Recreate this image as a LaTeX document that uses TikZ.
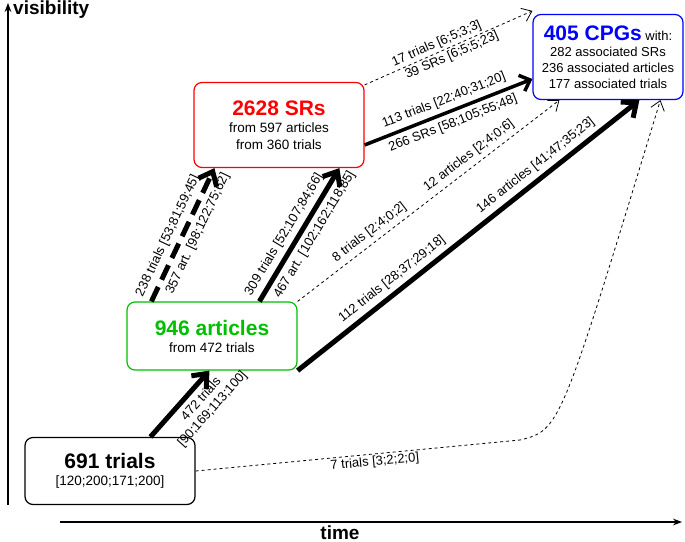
\documentclass[tikz,border=0pt]{standalone}
\usepackage{fontspec}
\setmainfont{Liberation Sans}
\usetikzlibrary{arrows.meta,positioning}
\tikzset{
  box/.style={draw,rounded corners=8pt,line width=1.2pt,minimum width=170pt,align=center,font=\fontsize{13.5}{17}\selectfont},
  fat/.style={line width=5pt,-{Straight Barb[length=12pt,width=20pt,line width=5pt]}},
  mid/.style={line width=3.5pt,-{Straight Barb[length=9pt,width=17pt,line width=3.5pt]}},
  thin/.style={line width=0.8pt,dashed,-{Straight Barb[length=9pt,width=14pt]}},
  lbl/.style={font=\fontsize{13}{15}\selectfont,sloped,inner sep=4.5pt},
}
\begin{document}
\begin{tikzpicture}[x=1pt,y=-1pt]
    \useasboundingbox (0,0) rectangle (685,541);

    % Axes
    \draw[line width=1.2pt,-{Stealth[length=9pt]}] (8,505) -- (8,3);
    \node[font=\bfseries\fontsize{19}{19}\selectfont,anchor=north west,inner sep=1pt] at (12,0) {visibility};
    \draw[line width=1.2pt,-{Stealth[length=9pt]}] (60,522) -- (682,522);
    \node[font=\bfseries\fontsize{19}{19}\selectfont,anchor=south,inner sep=1pt] at (340,541) {time};

    % Boxes
    \node[box,minimum height=67pt] (trials) at (110,471)
      {{\bfseries\fontsize{21}{24}\selectfont 691 trials}\\{}[120;200;171;200]};
    \node[box,draw=green!75!black,minimum height=68pt] (art) at (212,336)
      {{\bfseries\fontsize{21}{24}\selectfont\color{green!75!black} 946 articles}\\from 472 trials};
    \node[box,draw=red,minimum height=85pt] (sr) at (279,125)
      {{\bfseries\fontsize{21}{24}\selectfont\color{red} 2628 SRs}\\from 597 articles\\from 360 trials};
    \node[box,draw=blue,minimum width=150pt,minimum height=85pt,inner sep=2pt,font=\fontsize{13}{16}\selectfont] (cpg) at (608,57)
      {{\bfseries\fontsize{21}{24}\selectfont\color{blue} 405 CPGs} with:\\282 associated SRs\\236 associated articles\\177 associated trials};

    % trials -> articles
    \draw[fat] ([xshift=126pt]trials.north west) -- node[lbl,below,align=center,pos=0.7] {472 trials\\{}[90;169;113;100]} ([xshift=83pt]art.south west);

    % articles -> SRs
    \draw[fat,dashed,dash pattern=on 16pt off 8pt] ([xshift=25pt]art.north west)
      -- node[lbl,above,pos=0.45] {238 trials [53;81;59;45]}
         node[lbl,below,pos=0.55] {357 art. [98;122;75;62]} ([xshift=21pt]sr.south west);
    \draw[fat] ([xshift=133pt]art.north west)
      -- node[lbl,above,pos=0.45] {309 trials [52;107;84;66]}
         node[lbl,below,pos=0.55] {467 art. [102;162;118;85]} ([xshift=146pt]sr.south west);

    % articles -> CPGs
    \draw[thin] (art.north east)
      -- node[lbl,above,pos=0.3] {8 trials [2;4;0;2]}
         node[lbl,above,pos=0.68] {12 articles [2;4;0;6]} ([xshift=27pt]cpg.south west);
    \draw[fat] (art.south east)
      -- node[lbl,above,pos=0.3] {112 trials [28;37;29;18]}
         node[lbl,above,pos=0.72] {146 articles [41;47;35;23]} ([xshift=107pt]cpg.south west);

    % SRs -> CPGs
    \draw[thin] ([yshift=-3pt]sr.north east)
      -- node[lbl,above,pos=0.45,inner sep=2pt] {17 trials [6;5;3;3]}
         node[lbl,below,pos=0.5,inner sep=2pt] {39 SRs [6;5;5;23]} ([yshift=3pt]cpg.west |- cpg.north);
    \draw[mid] ([yshift=-20pt]sr.east)
      -- node[lbl,above,pos=0.5] {113 trials [22;40;31;20]}
         node[lbl,below,pos=0.5] {266 SRs [58;105;55;48]} ([yshift=-22pt]cpg.west);

    % trials -> CPGs
    \coordinate (bend) at (520,440);
    \draw[thin] (trials.east) -- node[lbl,below,pos=0.55,inner sep=2pt] {7 trials [3;2;2;0]} (bend)
      .. controls (560,430) .. ([xshift=128pt]cpg.south west);
\end{tikzpicture}
\end{document}
